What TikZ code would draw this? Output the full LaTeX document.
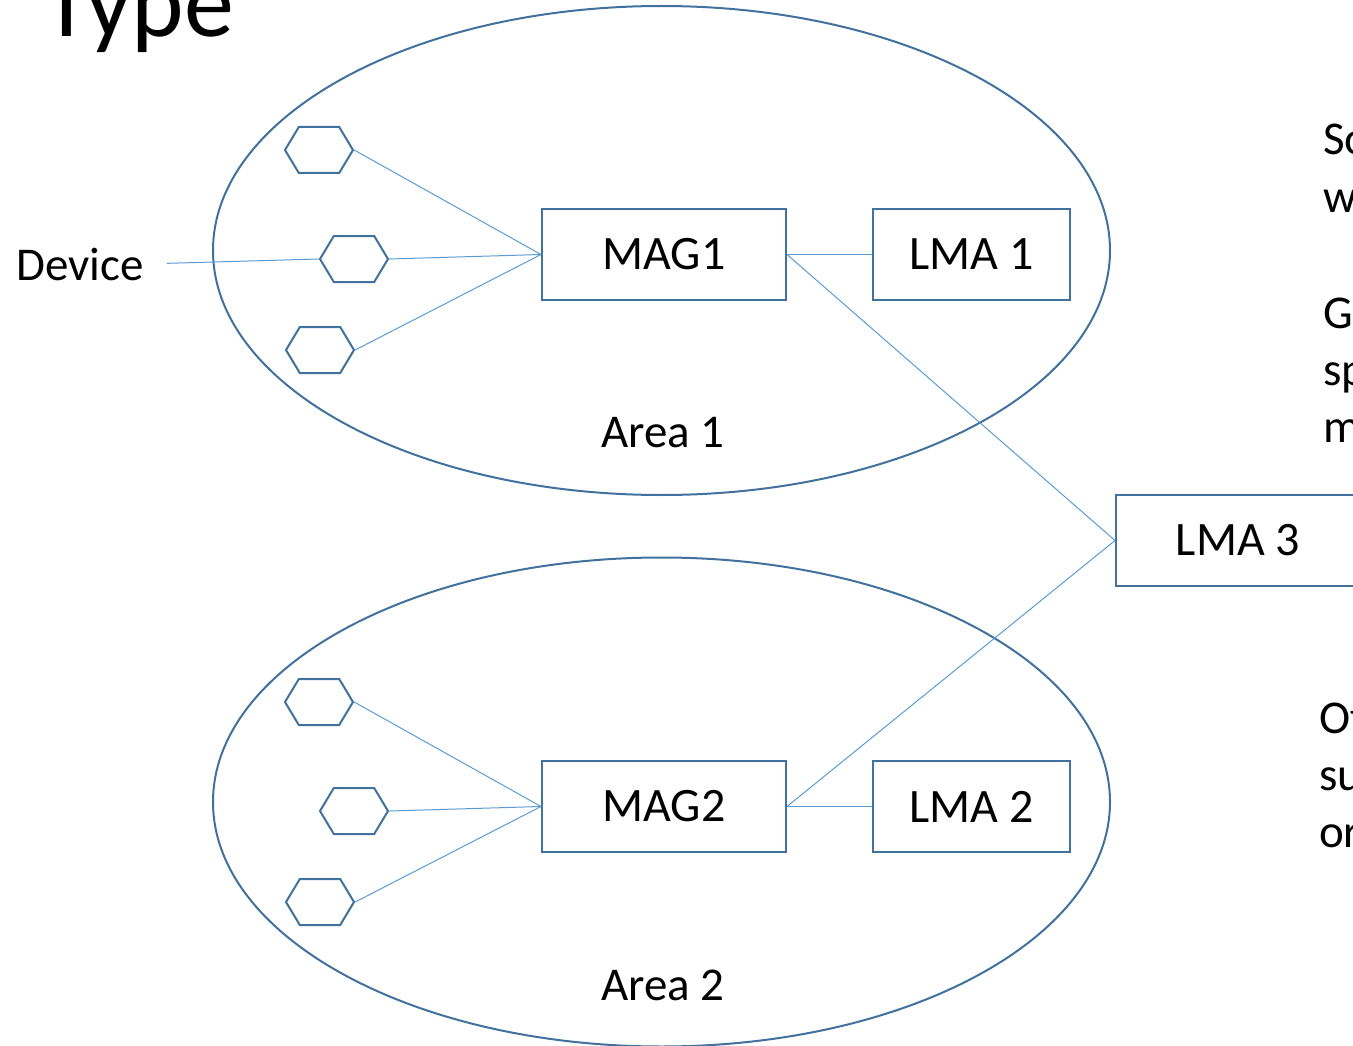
\documentclass[tikz,border=0pt]{standalone}
\usepackage{fontspec}
\setmainfont{Carlito}
\usetikzlibrary{shapes.geometric,shapes.symbols}
\definecolor{edgeblue}{HTML}{41719C}
\definecolor{linkblue}{HTML}{5B9BD5}
\begin{document}
\begin{tikzpicture}[
  x=1pt, y=-1pt,
  area/.style={ellipse, draw=edgeblue, line width=2pt, minimum width=897pt, minimum height=489pt},
  box/.style={rectangle, draw=edgeblue, line width=2pt, minimum width=244pt, minimum height=91pt, font=\fontsize{48}{57}\selectfont},
  hexa/.style={signal, signal to=east and west, signal pointer angle=118, draw=edgeblue, line width=2pt, minimum width=68pt, minimum height=46pt, inner sep=0pt},
  link/.style={draw=linkblue, line width=1pt},
  label/.style={inner sep=0pt, font=\fontsize{47}{56}\selectfont},
  sidetext/.style={anchor=base west, inner sep=0pt, font=\fontsize{47}{56}\selectfont}
]
\useasboundingbox (0,0) rectangle (1353,1046);
\clip (0,0) rectangle (1353,1046);

% Title
\node[anchor=base west, inner sep=0pt, font=\fontsize{100}{110}\selectfont] (title) at (42,37) {Type};

% Areas
\node[area] (area1) at (661.5,250.5) {};
\node[area] (area2) at (661.5,802) {};
\node[label] (arealabel1) at (663,433) {Area 1};
\node[label] (arealabel2) at (663,985) {Area 2};

% Boxes
\node[box] (mag1) at (664,254.5) {MAG1};
\node[box, minimum width=197pt] (lma1) at (971.5,254.5) {LMA 1};
\node[box] (mag2) at (664,806.5) {MAG2};
\node[box, minimum width=197pt] (lma2) at (971.5,806.5) {LMA 2};
\node[box] (lma3) at (1238,540.5) {LMA 3};

% Devices in area 1
\node[hexa] (hex11) at (319,150) {};
\node[hexa] (hex12) at (354,259) {};
\node[hexa] (hex13) at (320,350) {};

% Devices in area 2
\node[hexa] (hex21) at (319,702) {};
\node[hexa] (hex22) at (354,811) {};
\node[hexa] (hex23) at (320,902) {};

% Device label
\node[label] (device) at (80,264) {Device};

% Links
\draw[link] (hex11.east) -- (mag1.west);
\draw[link] (hex12.east) -- (mag1.west);
\draw[link] (hex13.east) -- (mag1.west);
\draw[link] (hex21.east) -- (mag2.west);
\draw[link] (hex22.east) -- (mag2.west);
\draw[link] (hex23.east) -- (mag2.west);
\draw[link, shorten <=23pt] (device.east) -- (hex12.west);
\draw[link] (mag1.east) -- (lma1.west);
\draw[link] (mag2.east) -- (lma2.west);
\draw[link] (mag1.east) -- (lma3.west);
\draw[link] (mag2.east) -- (lma3.west);

% Side text
\node[sidetext] (txt1) at (1323,155) {So};
\node[sidetext] (txt2) at (1323,212) {w};
\node[sidetext] (txt3) at (1323,328) {G};
\node[sidetext] (txt4) at (1323,385) {sp};
\node[sidetext] (txt5) at (1323,442) {m};
\node[sidetext] (txt6) at (1319,733) {Of};
\node[sidetext] (txt7) at (1319,790) {su};
\node[sidetext] (txt8) at (1319,847) {or};

\end{tikzpicture}
\end{document}
